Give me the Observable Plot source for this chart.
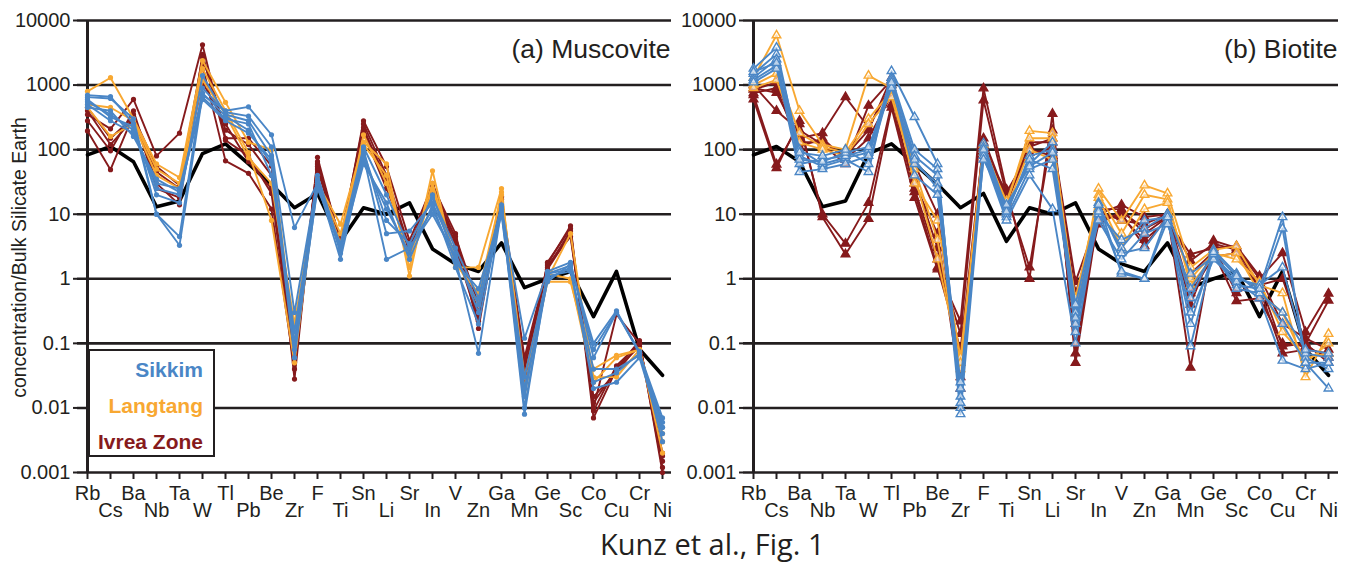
<!DOCTYPE html>
<html>
<head>
<meta charset="utf-8">
<script src="https://cdn.jsdelivr.net/npm/d3@7"></script>
<script src="https://cdn.jsdelivr.net/npm/@observablehq/plot@0.6"></script>
<style>
  html, body { margin: 0; padding: 0; background: #fff; }
  #wrap { position: relative; width: 1365px; height: 563px; overflow: hidden; font-family: "Liberation Sans", Arial, sans-serif; }
  #pa, #pb { position: absolute; top: 0; }
  #pa { left: 0; }
  #pb { left: 680px; }
  #legend { position: absolute; left: 88px; top: 349px; width: 127px; height: 108px; box-sizing: border-box;
            border: 2.5px solid #231f20; background: #fff; text-align: right; padding: 1px 10px 0 0;
            font-weight: bold; font-size: 21px; line-height: 36px; white-space: nowrap; }
  #caption { position: absolute; left: 600px; top: 524px; white-space: nowrap;
             font-family: "Open Sans", sans-serif; font-size: 29px; color: #231f20; }
</style>
</head>
<body>
<div id="wrap">
  <div id="pa"></div>
  <div id="pb"></div>
  <div id="legend">
    <div style="color:#4a86c6">Sikkim</div>
    <div style="color:#f8a832">Langtang</div>
    <div style="color:#861a1c">Ivrea Zone</div>
  </div>
  <div id="caption">Kunz et al., Fig. 1</div>
</div>
<script>
// ---------- data ----------
const elements = ["Rb","Cs","Ba","Nb","Ta","W","Tl","Pb","Be","Zr","F","Ti","Sn","Li","Sr","In","V","Zn","Ga","Mn","Ge","Sc","Co","Cu","Cr","Ni"];
const yTicks = [0.001, 0.01, 0.1, 1, 10, 100, 1000, 10000];

// reference line (black)
const reference = [83,112,65,13,16,87,123,60,29,12.6,21,3.8,12.6,10,15,2.9,1.7,1.3,3.6,0.73,1.0,1.3,0.26,1.3,0.081,0.032];

// (a) Muscovite
const muscSikkim = [
  [700,660,250,10,3.3,700,400,460,170,6.2,30,2.0,80,2.0,3.0,12,2.0,0.07,12,0.008,1.2,1.6,0.10,0.32,0.07,0.007],
  [650,620,300,10,4.5,900,380,330,110,0.30,35,2.5,100,5.0,5.5,15,2.5,0.30,13,0.12,1.3,1.8,0.06,0.30,0.07,0.005],
  [600,320,230,20,15,1400,350,280,80,0.10,40,3.0,90,8.0,3.5,18,3.0,0.50,14,0.010,1.0,1.5,0.02,0.025,0.06,0.004],
  [550,350,200,25,20,750,330,200,60,0.06,28,3.2,70,12,2.5,20,1.8,0.70,11,0.03,1.1,1.3,0.04,0.04,0.065,0.006],
  [500,280,180,30,25,650,300,250,40,0.15,32,2.8,60,15,2.0,14,1.5,0.20,12,0.02,0.9,1.7,0.08,0.30,0.075,0.003],
  [450,400,160,35,22,600,280,180,70,0.08,25,3.5,110,20,3.0,10,2.2,0.40,10,0.015,1.2,1.4,0.025,0.035,0.07,0.005]
];
const muscLangtang = [
  [800,1300,300,60,37,2400,540,130,100,0.10,30,7,130,60,1.1,47,1.5,1.5,25,0.02,0.9,0.9,0.04,0.065,0.08,0.003],
  [500,450,280,50,30,1800,400,90,8,0.05,35,3.5,170,30,2.0,30,2.0,0.4,22,0.03,1.0,5,0.03,0.03,0.08,0.002],
  [450,160,250,40,25,1200,350,75,30,0.20,30,5,120,40,1.5,25,1.7,0.6,20,0.015,1.2,1.0,0.025,0.06,0.08,0.004]
];
const muscIvrea = [
  [350,210,600,80,180,4200,150,150,56,0.028,76,3.6,280,55,3.9,28,5,0.17,18,0.03,1.7,6.6,0.007,0.04,0.11,0.001],
  [280,96,400,30,14,3000,140,80,21,0.05,60,4,250,40,3,30,4,0.3,16,0.05,1.5,5.5,0.01,0.28,0.1,0.0015],
  [195,49,350,25,18,2000,67,43,12,0.04,50,3.5,200,35,2.5,25,3.5,0.25,15,0.04,1.4,5,0.012,0.04,0.09,0.002],
  [400,120,300,45,25,1100,250,65,25,0.08,55,3.2,180,25,3.2,22,3,0.22,17,0.06,1.6,4.5,0.015,0.035,0.1,0.0012],
  [450,150,320,55,28,2700,200,120,40,0.06,65,3.8,220,30,2.8,20,4.5,0.4,19,0.025,1.8,6,0.009,0.045,0.1,0.0018]
];

// (b) Biotite
const bioSikkim = [
  [1800,3800,80,55,70,45,1650,320,60,0.010,125,12,60,130,0.20,15,1.2,1.0,10,0.09,2.5,0.8,0.7,9,0.05,0.02],
  [1500,3000,100,60,75,90,1300,100,50,0.015,110,10,80,100,0.15,12,3,8,9,0.5,2.8,1.2,0.6,6,0.06,0.04],
  [1300,2500,60,70,80,100,1200,80,40,0.020,90,9,50,70,0.30,10,4,6,10,1.2,2.2,1.0,0.8,1.5,0.07,0.06],
  [1200,2000,45,50,60,80,1000,60,30,0.008,80,8,40,12,0.10,11,1.3,1.0,8,0.3,2.0,0.9,0.5,0.054,0.04,0.05],
  [1100,1800,70,65,90,110,900,70,25,0.012,100,11,70,50,0.25,8,2,5,7,0.7,2.4,0.7,0.6,0.3,0.08,0.07],
  [1600,2200,90,80,100,60,1100,40,20,0.025,70,14,55,90,0.40,14,2.5,3,9,0.2,2.6,1.1,0.7,0.2,0.05,0.05]
];
const bioLangtang = [
  [1300,5900,400,120,100,1400,900,30,8,0.06,120,14,195,180,0.30,25,8,28,21,1.5,2.8,3.2,0.8,0.6,0.03,0.14],
  [1000,1500,180,110,90,300,800,50,4,0.04,100,16,150,150,0.40,20,5,20,17,0.8,2.2,2.5,0.6,0.3,0.05,0.10],
  [900,1200,130,100,80,250,650,40,2,0.05,90,12,100,70,0.50,18,3,12,15,1.0,2.5,2.0,0.9,0.15,0.06,0.07]
];
const bioIvrea = [
  [600,52,280,9,2.4,8.5,450,18,1.4,0.22,890,24,1.0,360,0.05,10,14,9,10,0.042,3.9,3.0,1.0,2.5,0.15,0.59],
  [700,59,250,10,3.5,15,500,25,2.0,0.14,580,20,1.5,200,0.07,12,12,5,9,1.9,3.5,2.8,0.8,1.0,0.10,0.46],
  [900,760,150,180,650,220,1000,60,10,0.03,150,18,110,150,0.9,9,9,4,8,2.4,3.0,3.2,1.1,0.2,0.12,0.08],
  [1000,400,200,120,60,480,1200,30,5,0.02,120,14,130,130,0.6,8,10,3.2,9,1.2,2.6,0.45,0.5,0.1,0.09,0.06],
  [850,1100,130,130,80,200,1300,35,3,0.05,100,22,90,100,0.3,11,8,7,10,0.6,2.2,2.5,0.7,0.07,0.08,0.07],
  [750,900,110,150,70,150,700,22,1.5,0.08,130,16,100,80,0.2,7,11,6,9,0.4,3.2,0.6,0.9,0.09,0.10,0.05]
];

const colors = { Sikkim: "#4a86c6", Langtang: "#f8a832", Ivrea: "#861a1c" };
const ink = "#231f20";

function toRows(samples) {
  const rows = [];
  samples.forEach((s, k) => s.forEach((v, i) => rows.push({ id: k, el: elements[i], v })));
  return rows;
}

function groupMarks(samples, color, symbol, openSymbol) {
  const rows = toRows(samples);
  return [
    Plot.line(rows, { x: "el", y: "v", z: "id", stroke: color, strokeWidth: 1.9 }),
    Plot.dot(rows, symbol === "circle"
      ? { x: "el", y: "v", r: 2.6, fill: color, stroke: "none" }
      : { x: "el", y: "v", symbol: "triangle", r: 3.2, fill: openSymbol ? "#fff" : color, stroke: color, strokeWidth: 1.4, fillOpacity: openSymbol ? 0.6 : 1 })
  ];
}

function panel({ width, marginLeft, marginRight, title, ylabel, groups, symbol }) {
  const evens = elements.filter((d, i) => i % 2 === 0);
  const odds = elements.filter((d, i) => i % 2 === 1);
  const marks = [
    Plot.ruleY(yTicks, { stroke: ink, strokeWidth: 2.6 }),
    Plot.ruleX(["Rb"], { y1: 0.001, y2: 10000, stroke: ink, strokeWidth: 3 }),
    Plot.axisX({ tickSize: 7, tickFormat: () => "", strokeWidth: 2, stroke: ink, label: null }),
    Plot.text(evens, { x: d => d, y: () => 0.001, dy: 21, fontSize: 20, fill: ink }),
    Plot.text(odds, { x: d => d, y: () => 0.001, dy: 38, fontSize: 20, fill: ink }),
    Plot.axisY({ ticks: yTicks, tickFormat: d => String(d), tickSize: 4, tickPadding: 3, fontSize: 20, stroke: ink, strokeWidth: 2, fill: ink, label: null }),
    Plot.line(elements, { x: d => d, y: (d, i) => reference[i], stroke: "#000", strokeWidth: 3.6 }),
    ...groups.flatMap(g => groupMarks(g.samples, g.color, symbol, g.open)),
    Plot.text([title], { frameAnchor: "top-right", dx: -1, dy: 29, lineAnchor: "middle", textAnchor: "end", fontSize: 26.5, fill: ink })
  ];
  if (ylabel) {
    marks.push(Plot.text([ylabel], { frameAnchor: "left", textAnchor: "middle", rotate: -90, dx: -58, dy: 11, fontSize: 19.5, fill: ink, lineAnchor: "middle" }));
  }
  return Plot.plot({
    width, height: 523, marginLeft, marginRight, marginTop: 20, marginBottom: 51,
    x: { type: "point", domain: elements, padding: 0 },
    y: { type: "log", domain: [0.001, 10000] },
    style: { fontFamily: "'Liberation Sans', Arial, sans-serif", fontSize: "20px", color: ink, background: "transparent", overflow: "visible" },
    marks
  });
}

document.getElementById("pa").append(panel({
  width: 690, marginLeft: 77, marginRight: 19,
  title: "(a) Muscovite", ylabel: "concentration/Bulk Silicate Earth", symbol: "circle",
  groups: [
    { samples: muscIvrea, color: colors.Ivrea },
    { samples: muscLangtang, color: colors.Langtang },
    { samples: muscSikkim, color: colors.Sikkim }
  ]
}));

document.getElementById("pb").append(panel({
  width: 685, marginLeft: 63, marginRight: 27,
  title: "(b) Biotite", ylabel: null, symbol: "triangle",
  groups: [
    { samples: bioIvrea, color: colors.Ivrea, open: false },
    { samples: bioLangtang, color: colors.Langtang, open: true },
    { samples: bioSikkim, color: colors.Sikkim, open: true }
  ]
}));
</script>
</body>
</html>
